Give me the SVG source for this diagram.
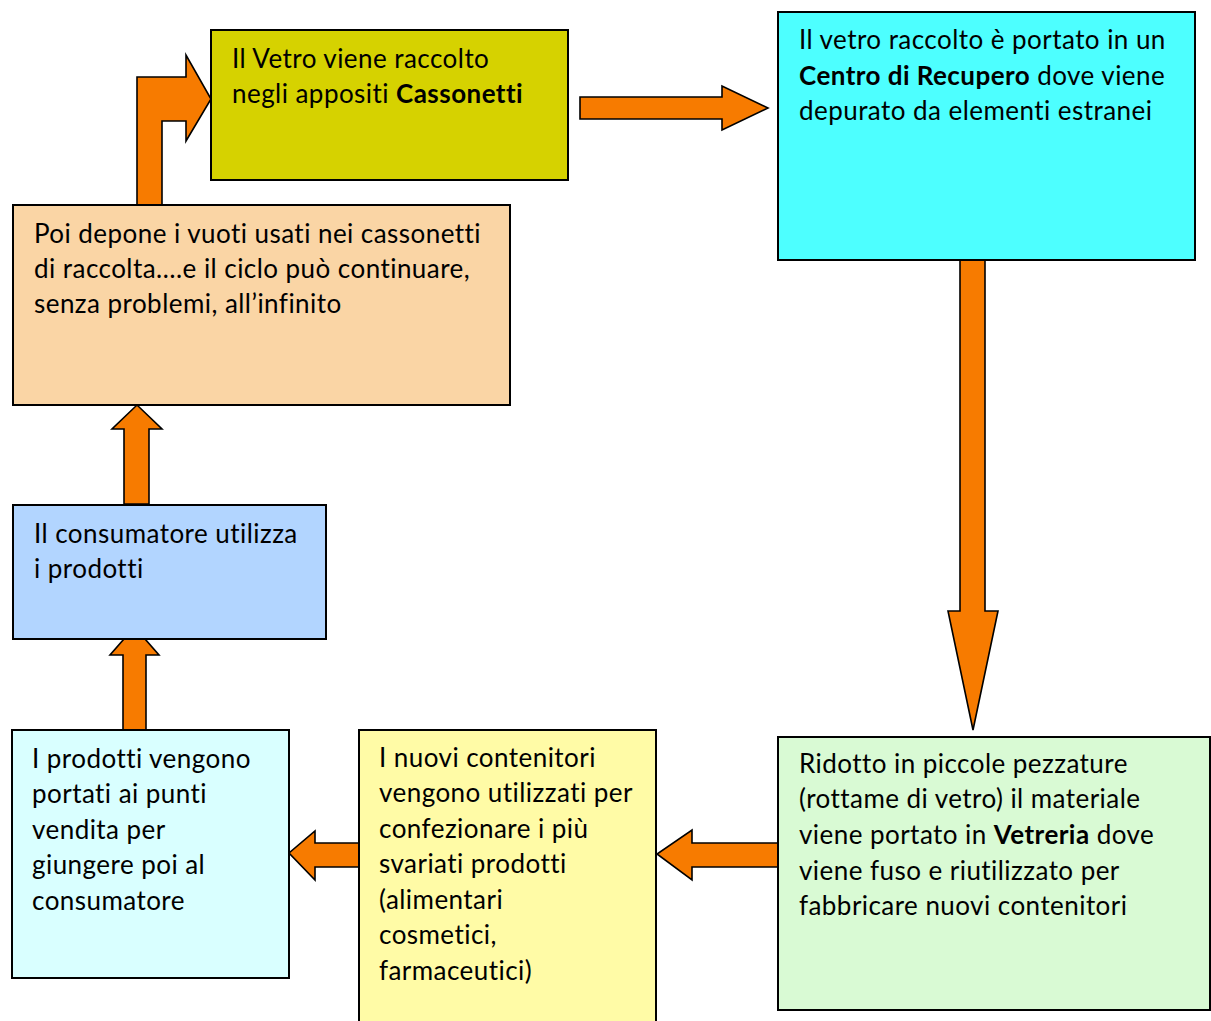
<svg xmlns="http://www.w3.org/2000/svg" width="1211" height="1021" viewBox="0 0 1211 1021">
  <style>
    .box { stroke: #000; stroke-width: 2; }
    .arrow { fill: #F77B00; stroke: #000; stroke-width: 1.6; stroke-linejoin: miter; }
    text { font-family: Lato, "Open Sans", "Liberation Sans", sans-serif; font-size: 26px; letter-spacing: 0.45px; font-variant-ligatures: none; fill: #000; }
    .b { font-weight: bold; }
  </style>
  <rect width="1211" height="1021" fill="#fff"/>

  <!-- connectors: block arrows between the steps of the cycle -->
  <g id="connectors">
    <polygon class="arrow" points="137,205 137,77 186,77 186,55 211,99 186,141 186,121 162,121 162,205"/>
    <polygon class="arrow" points="580,97 722,97 722,86 768,108 722,130 722,119 580,119"/>
    <polygon class="arrow" points="960,260 985,260 985,611 998,611 973,730 948,611 960,611"/>
    <polygon class="arrow" points="778,843 692,843 692,830 657,854 692,880 692,867 778,867"/>
    <polygon class="arrow" points="359,843 315,843 315,831 289,853 315,880 315,867 359,867"/>
    <polygon class="arrow" points="124,504 124,429 112,429 137,405 162,429 149,429 149,504"/>
    <polygon class="arrow" points="123,730 123,655 110,655 134.5,627 159,655 146,655 146,730"/>
  </g>

  <g id="cassonetti">
    <rect class="box" x="211" y="30" width="357" height="150" fill="#D6D200"/>
    <text x="232" y="68">Il Vetro viene raccolto</text>
    <text x="232" y="103">negli appositi <tspan class="b">Cassonetti</tspan></text>
  </g>

  <g id="centro-recupero">
    <rect class="box" x="778" y="12" width="417" height="248" fill="#4DFFFF"/>
    <text x="799" y="49">Il vetro raccolto è portato in un</text>
    <text x="799" y="85"><tspan class="b">Centro di Recupero</tspan> dove viene</text>
    <text x="799" y="120">depurato da elementi estranei</text>
  </g>

  <g id="vetreria">
    <rect class="box" x="778" y="737" width="432" height="273" fill="#D9FAD4"/>
    <text x="799" y="773">Ridotto in piccole pezzature</text>
    <text x="799" y="808">(rottame di vetro) il materiale</text>
    <text x="799" y="844">viene portato in <tspan class="b">Vetreria</tspan> dove</text>
    <text x="799" y="880">viene fuso e riutilizzato per</text>
    <text x="799" y="915">fabbricare nuovi contenitori</text>
  </g>

  <g id="nuovi-contenitori">
    <rect class="box" x="359" y="730" width="297" height="300" fill="#FFFBA6"/>
    <text x="379" y="767">I nuovi contenitori</text>
    <text x="379" y="802">vengono utilizzati per</text>
    <text x="379" y="838">confezionare i più</text>
    <text x="379" y="873">svariati prodotti</text>
    <text x="379" y="909">(alimentari</text>
    <text x="379" y="944">cosmetici,</text>
    <text x="379" y="980">farmaceutici)</text>
  </g>

  <g id="punti-vendita">
    <rect class="box" x="12" y="730" width="277" height="248" fill="#D9FFFF"/>
    <text x="32" y="768">I prodotti vengono</text>
    <text x="32" y="803">portati ai punti</text>
    <text x="32" y="839">vendita per</text>
    <text x="32" y="874">giungere poi al</text>
    <text x="32" y="910">consumatore</text>
  </g>

  <g id="consumatore">
    <rect class="box" x="13" y="505" width="313" height="134" fill="#B2D5FF"/>
    <text x="34" y="543">Il consumatore utilizza</text>
    <text x="34" y="578">i prodotti</text>
  </g>

  <g id="deposito">
    <rect class="box" x="13" y="205" width="497" height="200" fill="#FAD5A5"/>
    <text x="34" y="243">Poi depone i vuoti usati nei cassonetti</text>
    <text x="34" y="278">di raccolta….e il ciclo può continuare,</text>
    <text x="34" y="313">senza problemi, all’infinito</text>
  </g>
</svg>
